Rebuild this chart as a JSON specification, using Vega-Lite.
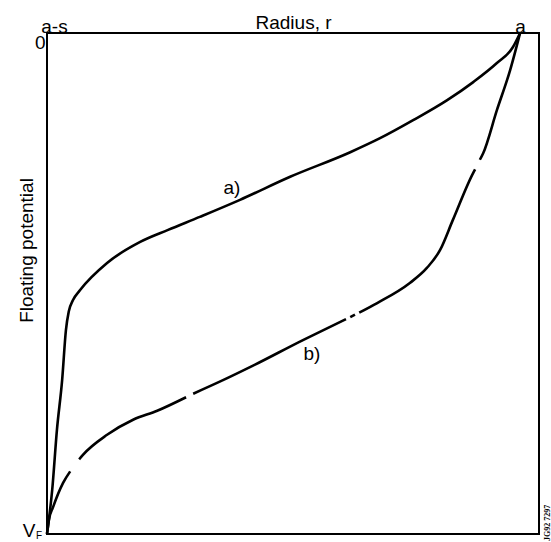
{
  "$schema": "https://vega.github.io/schema/vega-lite/v6.json",
  "width": 492,
  "height": 501,
  "autosize": "none",
  "padding": {"left": 47, "top": 33, "right": 12, "bottom": 8},
  "background": "white",
  "config": {
    "font": "Liberation Sans",
    "view": {"stroke": "black", "strokeWidth": 2},
    "axis": {"domain": false, "ticks": false, "grid": false, "labelColor": "black", "titleColor": "black", "labelFontSize": 19, "titleFontSize": 19, "titleFontWeight": "normal", "labelFont": "Liberation Sans", "titleFont": "Liberation Sans"}
  },
  "title": {
    "text": "JG92 7297",
    "orient": "right",
    "anchor": "end",
    "angle": -90,
    "align": "left",
    "baseline": "middle",
    "fontSize": 8,
    "fontWeight": "bold",
    "font": "Liberation Sans Narrow",
    "color": "black",
    "offset": 1
  },
  "datasets": {
    "curves": [
      {"curve": "a", "seg": "a", "r": 0.0, "v": -1.0},
      {"curve": "a", "seg": "a", "r": 0.011, "v": -0.912},
      {"curve": "a", "seg": "a", "r": 0.021, "v": -0.792},
      {"curve": "a", "seg": "a", "r": 0.032, "v": -0.693},
      {"curve": "a", "seg": "a", "r": 0.040, "v": -0.593},
      {"curve": "a", "seg": "a", "r": 0.046, "v": -0.556},
      {"curve": "a", "seg": "a", "r": 0.055, "v": -0.533},
      {"curve": "a", "seg": "a", "r": 0.070, "v": -0.513},
      {"curve": "a", "seg": "a", "r": 0.127, "v": -0.459},
      {"curve": "a", "seg": "a", "r": 0.197, "v": -0.417},
      {"curve": "a", "seg": "a", "r": 0.256, "v": -0.393},
      {"curve": "a", "seg": "a", "r": 0.323, "v": -0.367},
      {"curve": "a", "seg": "a", "r": 0.408, "v": -0.333},
      {"curve": "a", "seg": "a", "r": 0.514, "v": -0.287},
      {"curve": "a", "seg": "a", "r": 0.641, "v": -0.238},
      {"curve": "a", "seg": "a", "r": 0.704, "v": -0.210},
      {"curve": "a", "seg": "a", "r": 0.774, "v": -0.174},
      {"curve": "a", "seg": "a", "r": 0.846, "v": -0.134},
      {"curve": "a", "seg": "a", "r": 0.901, "v": -0.098},
      {"curve": "a", "seg": "a", "r": 0.951, "v": -0.060},
      {"curve": "a", "seg": "a", "r": 0.985, "v": -0.028},
      {"curve": "a", "seg": "a", "r": 1.0, "v": 0.0},

      {"curve": "b", "seg": "b1", "r": 0.0, "v": -1.0},
      {"curve": "b", "seg": "b1", "r": 0.004, "v": -0.972},
      {"curve": "b", "seg": "b1", "r": 0.013, "v": -0.946},
      {"curve": "b", "seg": "b1", "r": 0.034, "v": -0.898},
      {"curve": "b", "seg": "b1", "r": 0.049, "v": -0.875},

      {"curve": "b", "seg": "b2", "r": 0.068, "v": -0.851},
      {"curve": "b", "seg": "b2", "r": 0.076, "v": -0.842},
      {"curve": "b", "seg": "b2", "r": 0.127, "v": -0.802},
      {"curve": "b", "seg": "b2", "r": 0.182, "v": -0.772},
      {"curve": "b", "seg": "b2", "r": 0.233, "v": -0.754},
      {"curve": "b", "seg": "b2", "r": 0.294, "v": -0.727},

      {"curve": "b", "seg": "b3", "r": 0.309, "v": -0.720},
      {"curve": "b", "seg": "b3", "r": 0.372, "v": -0.693},
      {"curve": "b", "seg": "b3", "r": 0.429, "v": -0.667},
      {"curve": "b", "seg": "b3", "r": 0.541, "v": -0.613},
      {"curve": "b", "seg": "b3", "r": 0.632, "v": -0.571},

      {"curve": "b", "seg": "b4", "r": 0.641, "v": -0.567},
      {"curve": "b", "seg": "b4", "r": 0.651, "v": -0.562},

      {"curve": "b", "seg": "b5", "r": 0.660, "v": -0.558},
      {"curve": "b", "seg": "b5", "r": 0.698, "v": -0.539},
      {"curve": "b", "seg": "b5", "r": 0.767, "v": -0.499},
      {"curve": "b", "seg": "b5", "r": 0.803, "v": -0.469},
      {"curve": "b", "seg": "b5", "r": 0.831, "v": -0.433},
      {"curve": "b", "seg": "b5", "r": 0.858, "v": -0.373},
      {"curve": "b", "seg": "b5", "r": 0.901, "v": -0.279},
      {"curve": "b", "seg": "b5", "r": 0.905, "v": -0.272},

      {"curve": "b", "seg": "b6", "r": 0.915, "v": -0.253},
      {"curve": "b", "seg": "b6", "r": 0.922, "v": -0.240},
      {"curve": "b", "seg": "b6", "r": 0.951, "v": -0.154},
      {"curve": "b", "seg": "b6", "r": 0.979, "v": -0.074},
      {"curve": "b", "seg": "b6", "r": 1.0, "v": 0.0}
    ],
    "labels": [
      {"label": "a)", "r": 0.391, "v": -0.309},
      {"label": "b)", "r": 0.560, "v": -0.641}
    ],
    "corner": [
      {"label": "F", "r": 0.0, "v": -1.0}
    ]
  },
  "layer": [
    {
      "data": {"name": "curves"},
      "mark": {"type": "line", "interpolate": "monotone", "color": "black", "strokeWidth": 2.6},
      "encoding": {
        "x": {
          "field": "r", "type": "quantitative",
          "scale": {"domain": [0, 1.04], "nice": false, "zero": false},
          "axis": {
            "orient": "top",
            "values": [0, 1],
            "labelExpr": "datum.value == 0 ? 'a-s' : 'a'",
            "labelBaseline": "alphabetic",
            "labelPadding": 1,
            "labelFlush": false,
            "labelOverlap": false,
            "labelOffset": {"condition": {"test": "datum.value == 0", "value": 7}, "value": 0},
            "title": "Radius, r",
            "titleBaseline": "alphabetic",
            "titleY": -5
          }
        },
        "y": {
          "field": "v", "type": "quantitative",
          "scale": {"domain": [-1, 0], "nice": false, "zero": false},
          "axis": {
            "orient": "left",
            "values": [0, -1],
            "labelExpr": "datum.value == 0 ? '0' : 'V'",
            "labelAlign": "right",
            "labelFlush": false,
            "labelOverlap": false,
            "labelBaseline": {"condition": {"test": "datum.value == 0", "value": "top"}, "value": "alphabetic"},
            "labelOffset": {"condition": {"test": "datum.value == 0", "value": 0}, "value": 2},
            "labelPadding": {"condition": {"test": "datum.value == 0", "value": 2}, "value": 12},
            "title": "Floating potential",
            "titleAngle": -90,
            "titleX": -21,
            "titleY": 217,
            "titleAlign": "center",
            "titleBaseline": "middle"
          }
        },
        "detail": {"field": "seg"}
      }
    },
    {
      "data": {"name": "labels"},
      "mark": {"type": "text", "fontSize": 19, "color": "black", "align": "center", "baseline": "middle"},
      "encoding": {
        "x": {"field": "r", "type": "quantitative"},
        "y": {"field": "v", "type": "quantitative"},
        "text": {"field": "label"}
      }
    },
    {
      "data": {"name": "corner"},
      "mark": {"type": "text", "fontSize": 10, "color": "black", "align": "center", "baseline": "middle", "dx": -8, "dy": 2},
      "encoding": {
        "x": {"field": "r", "type": "quantitative"},
        "y": {"field": "v", "type": "quantitative"},
        "text": {"field": "label"}
      }
    }
  ]
}
